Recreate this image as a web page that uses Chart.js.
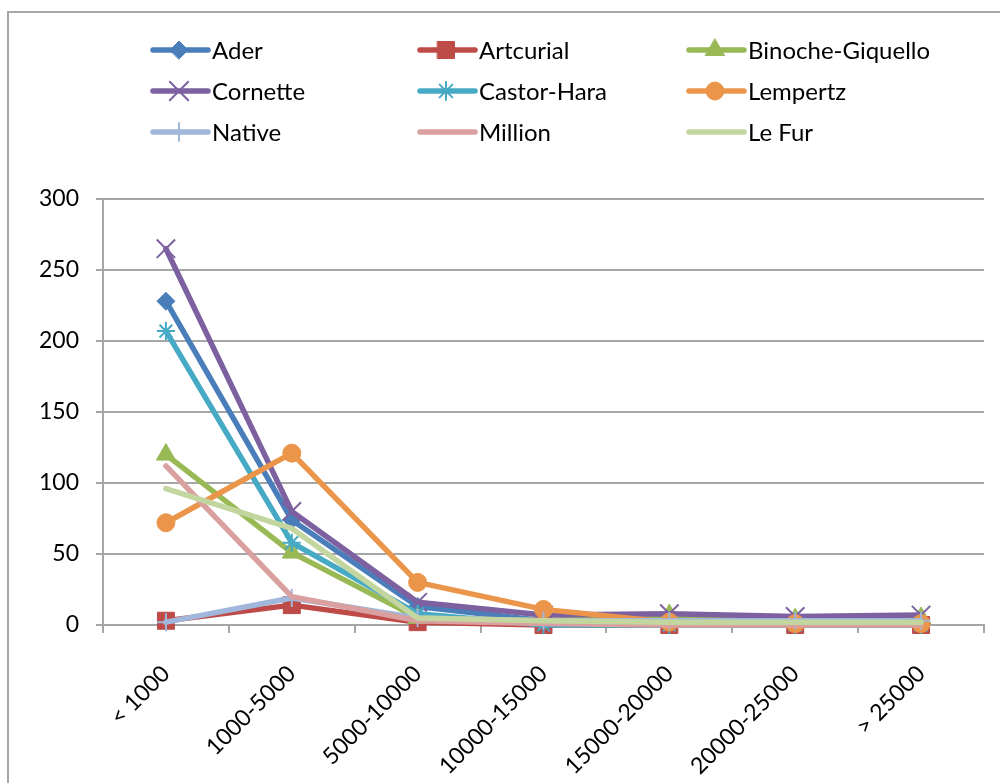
<!DOCTYPE html>
<html>
<head>
<meta charset="utf-8">
<script src="https://cdn.jsdelivr.net/npm/chart.js@4.4.0/dist/chart.umd.min.js"></script>
<style>
  html,body{margin:0;padding:0;background:#fff;}
  #wrap{width:1000px;height:783px;position:relative;}
</style>
</head>
<body>
<div id="wrap"><canvas id="myChart" width="1000" height="783"></canvas></div>
<script>
var categories = ['< 1000','1000-5000','5000-10000','10000-15000','15000-20000','20000-25000','> 25000']
var yTicks = [0,50,100,150,200,250,300]

var ader      = [228, 74, 13, 3, 2, 1, 1]
var artcurial = [3, 14, 2, 0, 0, 0, 0]
var binoche   = [120, 51, 5, 3, 7, 4, 5]
var cornette  = [265, 80, 16, 7, 8, 6, 7]
var castor    = [207, 58, 8, 0, 0, 0, 0]
var lempertz  = [72, 121, 30, 11, 2, 1, 1]
var native    = [2, 19, 5, 3, 3, 3, 3]
var million   = [112, 20, 3, 1, 0, 0, 0]
var lefur     = [96, 68, 5, 3, 2, 2, 2]

var FONT = "Lato, 'Open Sans', sans-serif"

function series(label, data, color, style, radius, bw){
    return {
        label:label,
        data:data,
        borderColor:color,
        backgroundColor:color,
        borderWidth:5.5,
        borderCapStyle:'round',
        borderJoinStyle:'round',
        tension:0,
        pointStyle:style || false,
        pointRadius:style ? radius : 0,
        pointHoverRadius:style ? radius : 0,
        pointBorderWidth:bw || 1,
        pointBorderColor:color,
        pointBackgroundColor:color,
        clip:false
    }
}

var datasets = [
    series('Ader', ader, '#4a7ebb', 'rectRot', 9),
    series('Artcurial', artcurial, '#be4b48', 'rect', 12),
    series('Binoche-Giquello', binoche, '#98b954', 'triangle', 11),
    series('Cornette', cornette, '#7d60a0', 'crossRot', 13, 2),
    series('Castor-Hara', castor, '#46aac5', 'star', 9, 2),
    series('Lempertz', lempertz, '#ea9549', 'circle', 9),
    series('Native', native, '#a0b7db', 'cross', 9, 2),
    series('Million', million, '#d9a09f', null),
    series('Le Fur', lefur, '#c3d6a0', null)
]
// later series on top, like the original
datasets.forEach(function(d, i){ d.order = datasets.length - i })

// grid-style legend + outer frame
var extras = {
    id:'extras',
    beforeDraw:function(chart){
        var ctx = chart.ctx
        ctx.save()
        ctx.strokeStyle = '#a6a6a6'
        ctx.lineWidth = 2
        ctx.strokeRect(8, 12, 1200, 1200)
        ctx.restore()
    },
    afterDraw:function(chart){
        var ctx = chart.ctx
        var colX = [153, 420, 689]
        var rowY = [50, 91, 132]
        ctx.save()
        chart.data.datasets.forEach(function(ds, i){
            var x0 = colX[i % 3], y = rowY[Math.floor(i / 3)]
            ctx.strokeStyle = ds.borderColor
            ctx.lineWidth = 5.5
            ctx.lineCap = 'round'
            ctx.beginPath()
            ctx.moveTo(x0, y)
            ctx.lineTo(x0 + 55, y)
            ctx.stroke()
            if (ds.pointStyle) {
                ctx.fillStyle = ds.pointBackgroundColor
                ctx.strokeStyle = ds.pointBorderColor
                ctx.lineWidth = ds.pointBorderWidth
                Chart.helpers.drawPoint(ctx, {pointStyle:ds.pointStyle, radius:ds.pointRadius, rotation:0, borderWidth:ds.pointBorderWidth}, x0 + 26, y)
            }
            ctx.fillStyle = '#000'
            ctx.font = '24px ' + FONT
            ctx.textBaseline = 'middle'
            ctx.textAlign = 'left'
            ctx.fillText(ds.label, x0 + 59, y + 1)
        })
        ctx.restore()
    }
}

var myChart = document.getElementById('myChart').getContext('2d')
var chart = new Chart(myChart, {
    type:'line',
    data:{ labels:categories, datasets:datasets },
    options:{
        responsive:false,
        animation:false,
        events:[],
        layout:{ padding:{ left:8, top:199, right:16, bottom:0 } },
        plugins:{ legend:{ display:false }, tooltip:{ enabled:false } },
        scales:{
            x:{
                offset:true,
                afterFit:function(s){ s.height = 158 },
                grid:{ offset:true, drawOnChartArea:false, drawTicks:true, tickLength:8, color:'#a6a6a6', lineWidth:2 },
                border:{ color:'#a6a6a6', width:2 },
                ticks:{ autoSkip:false, minRotation:45, maxRotation:45, color:'#000', padding:27, font:{ family:FONT, size:23 } }
            },
            y:{
                min:0, max:300,
                afterFit:function(s){ s.width = 95 },
                afterBuildTicks:function(s){ s.ticks = yTicks.map(function(v){ return {value:v} }) },
                grid:{ color:'#a6a6a6', lineWidth:2, tickLength:7 },
                border:{ color:'#a6a6a6', width:2 },
                ticks:{ color:'#000', padding:17, font:{ family:FONT, size:23 } }
            }
        }
    },
    plugins:[extras]
})
</script>
</body>
</html>
